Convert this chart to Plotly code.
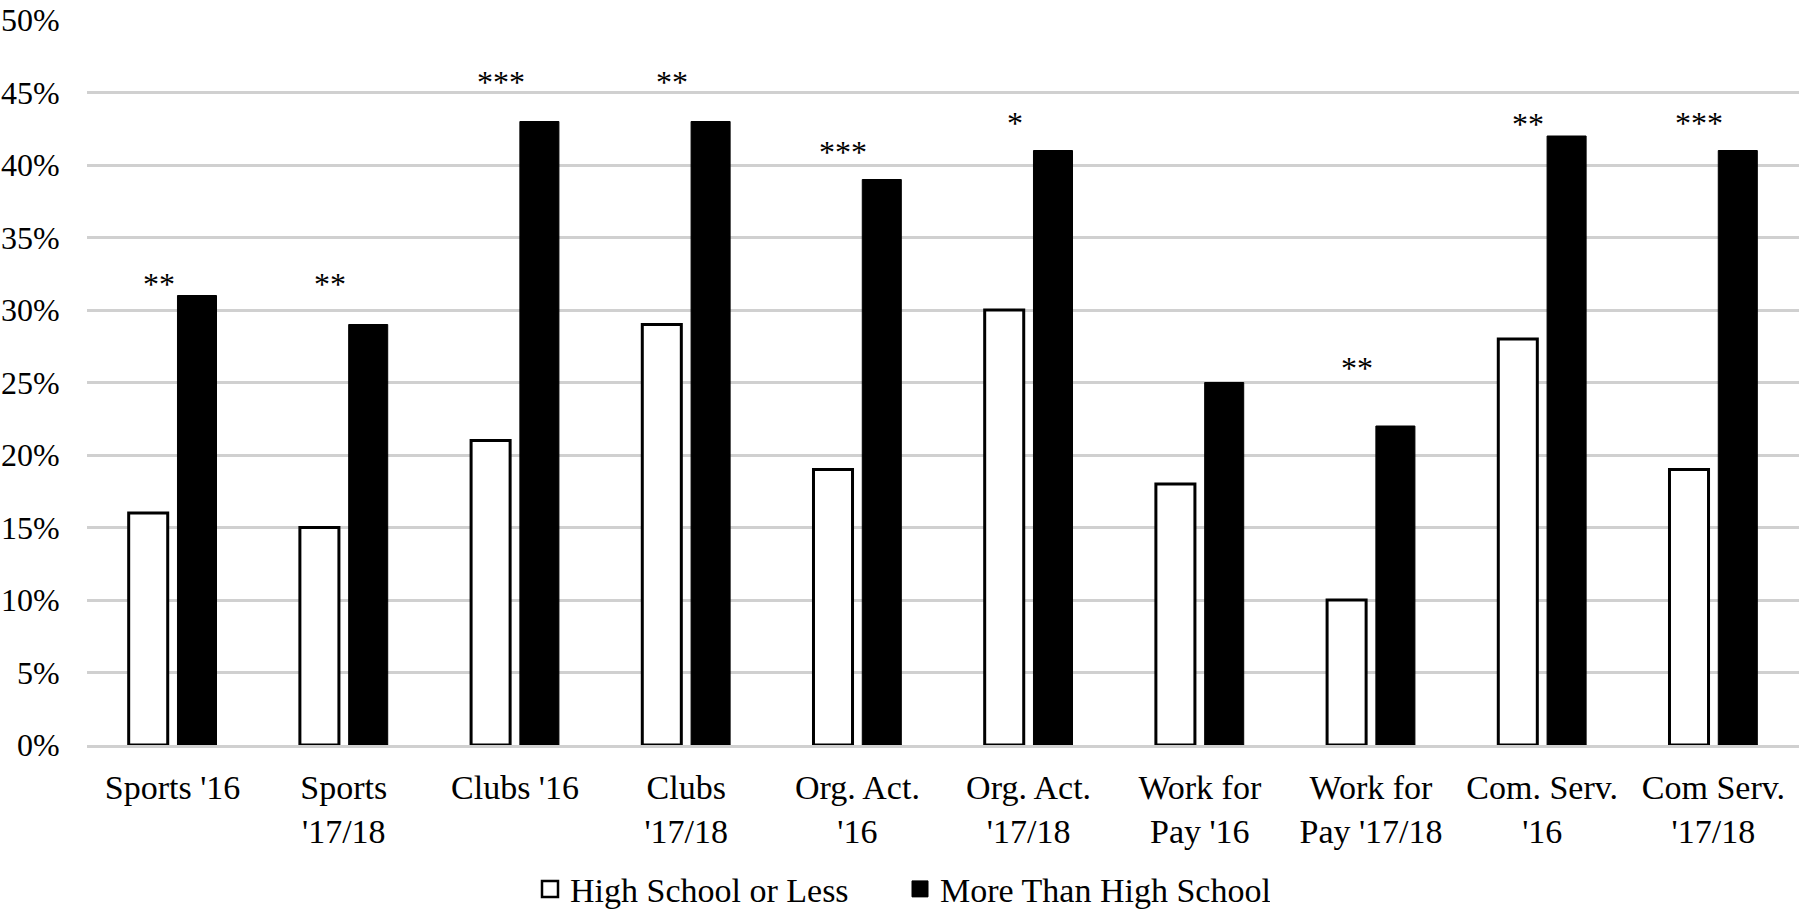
import plotly.graph_objects as go

categories = ["Sports '16", "Sports<br>'17/18", "Clubs '16", "Clubs<br>'17/18",
              "Org. Act.<br>'16", "Org. Act.<br>'17/18", "Work for<br>Pay '16",
              "Work for<br>Pay '17/18", "Com. Serv.<br>'16", "Com Serv.<br>'17/18"]
hs_or_less = [16, 15, 21, 29, 19, 30, 18, 10, 28, 19]
more_than_hs = [31, 29, 43, 43, 39, 41, 25, 22, 42, 41]
stars = ["**", "**", "***", "**", "***", "*", "", "**", "**", "***"]
star_level = [31.8, 31.8, 45.7, 45.7, 40.9, 42.9, 0, 26.0, 42.8, 42.9]
y_ticks = [0, 5, 10, 15, 20, 25, 30, 35, 40, 45, 50]

FONT = "Liberation Serif"

fig = go.Figure()
fig.add_trace(go.Bar(x=categories, y=hs_or_less, name="High School or Less", showlegend=False,
                     marker=dict(color="white", line=dict(color="black", width=3))))
fig.add_trace(go.Bar(x=categories, y=more_than_hs, name="More Than High School", showlegend=False,
                     marker=dict(color="black", line=dict(color="black", width=1))))

# legend entries with bigger square swatches
fig.add_trace(go.Scatter(x=[None], y=[None], mode="markers", name="High School or Less",
                         marker=dict(symbol="square", size=16, color="white",
                                     line=dict(color="black", width=2.5))))
fig.add_trace(go.Scatter(x=[None], y=[None], mode="markers", name="More Than High School",
                         marker=dict(symbol="square", size=16, color="black",
                                     line=dict(color="black", width=1))))

for cat, s, lvl in zip(categories, stars, star_level):
    if s:
        fig.add_annotation(x=cat, y=lvl, text=s, showarrow=False, xshift=-14,
                           yanchor="middle", font=dict(family=FONT, size=32, color="black"))

fig.update_layout(
    width=1800, height=912,
    margin=dict(l=87, r=1, t=20, b=167, autoexpand=False),
    paper_bgcolor="white", plot_bgcolor="white",
    barmode="group", bargap=0.43, bargroupgap=0.2,
    font=dict(family=FONT, color="black"),
    showlegend=True,
    legend=dict(orientation="h", xref="container", x=0.5, xanchor="center",
                y=-0.199, yanchor="middle", font=dict(size=34), itemwidth=30,
                entrywidth=325, entrywidthmode="pixels"),
    xaxis=dict(tickfont=dict(size=34), showgrid=False, showline=True, automargin=False,
               linecolor="#d0d0d0", linewidth=3, layer="above traces",
               ticks="outside", ticklen=10, tickcolor="rgba(0,0,0,0)"),
    yaxis=dict(range=[0, 50], tickvals=y_ticks, ticktext=[f"{v}%" for v in y_ticks],
               tickfont=dict(size=32), showgrid=True, gridcolor="#d0d0d0", gridwidth=2.5,
               automargin=False, zeroline=False, ticks="outside", ticklen=20,
               tickcolor="rgba(0,0,0,0)"),
)

# drop the default 8px page margin so the figure fills the window
fig.write_html("out.html", config={"displayModeBar": False},
               post_script="document.body.style.margin='0';")
